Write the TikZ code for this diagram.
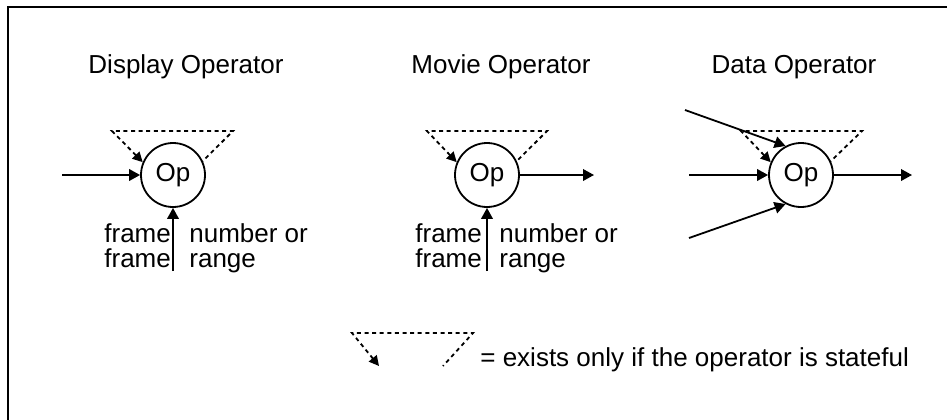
\documentclass[tikz,border=0pt]{standalone}
\usepackage{fontspec}
\setmainfont{Liberation Sans}
\usetikzlibrary{arrows.meta}
\begin{document}
\begin{tikzpicture}[x=0.5pt,y=-0.5pt,
  every node/.style={font=\fontsize{13}{13}\selectfont, inner sep=0pt},
  opnode/.style={draw, circle, minimum size=32pt, line width=0.9pt},
  lbl/.style={anchor=base west},
  ttl/.style={anchor=base},
  arr/.style={line width=0.9pt, -{Triangle[length=5.5pt,width=5.8pt]}},
  dotarr/.style={line width=0.9pt, dash pattern=on 2pt off 1.8pt, {Triangle[length=5pt,width=5pt]}-},
  frameline/.style={line width=1pt}]
\useasboundingbox (0,0) rectangle (947,419);
\draw[frameline] (8,425) -- (8,7) -- (955,7);

% Display operator
\node[ttl] (dt) at (186,73) {Display Operator};
\node[opnode] (d) at (173,175) {Op};
\coordinate (din) at (62,175);
\coordinate (dbot) at (173,271);
\coordinate (dtl) at (112,131);
\coordinate (dtr) at (233,131);
\draw[arr] (din) -- (d.west);
\draw[arr] (dbot) -- (d.south);
\draw[dotarr] (d.157) -- (dtl) -- (dtr) -- (d.25);
\node[lbl] (df1) at (104,242) {frame};
\node[lbl] (df2) at (104,267) {frame};
\node[lbl] (dn1) at (189,242) {number or};
\node[lbl] (dn2) at (189,267) {range};

% Movie operator
\node[ttl] (mt) at (501,73) {Movie Operator};
\node[opnode] (m) at (487,175) {Op};
\coordinate (mout) at (594,175);
\coordinate (mbot) at (487,271);
\coordinate (mtl) at (427,131);
\coordinate (mtr) at (547,131);
\draw[arr] (m.east) -- (mout);
\draw[arr] (mbot) -- (m.south);
\draw[dotarr] (m.157) -- (mtl) -- (mtr) -- (m.25);
\node[lbl] (mf1) at (415,242) {frame};
\node[lbl] (mf2) at (415,267) {frame};
\node[lbl] (mn1) at (499,242) {number or};
\node[lbl] (mn2) at (499,267) {range};

% Data operator
\node[ttl] (at) at (794,73) {Data Operator};
\node[opnode] (a) at (801,175) {Op};
\coordinate (ain) at (689,175);
\coordinate (aup) at (685,110);
\coordinate (alo) at (689,238);
\coordinate (aout) at (912,175);
\coordinate (atl) at (741,131);
\coordinate (atr) at (862,131);
\draw[arr] (ain) -- (a.west);
\draw[arr] (aup) -- (a.118);
\draw[arr] (alo) -- (a.242);
\draw[arr] (a.east) -- (aout);
\draw[dotarr] (a.157) -- (atl) -- (atr) -- (a.25);

% Legend
\coordinate (ltip) at (379,366);
\coordinate (ltl) at (352,333);
\coordinate (ltr) at (473,333);
\coordinate (lend) at (443,366);
\draw[dotarr] (ltip) -- (ltl) -- (ltr) -- (lend);
\node[lbl] (legtext) at (480,366) {= exists only if the operator is stateful};
\end{tikzpicture}
\end{document}
